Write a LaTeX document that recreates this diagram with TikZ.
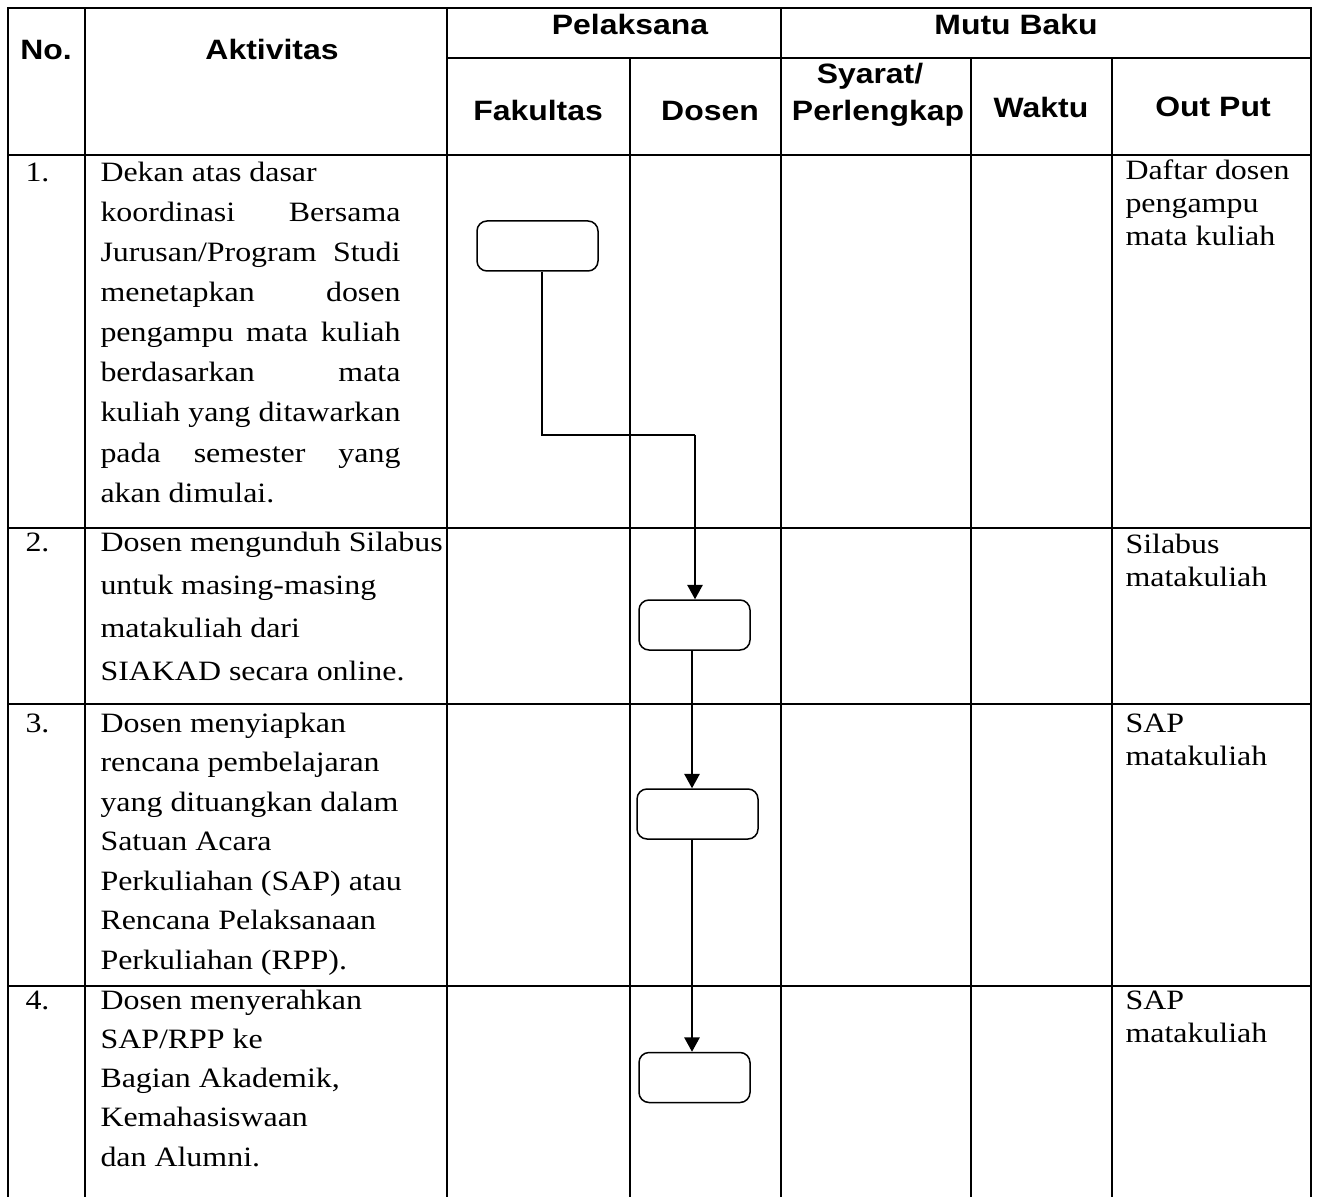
\documentclass[tikz,border=0pt]{standalone}
\usepackage{fontspec}
\setmainfont{Liberation Serif}[FakeStretch=1.14]
\newfontfamily\hdrfont{Liberation Sans}[FakeStretch=1.14]
\usetikzlibrary{arrows.meta}
\newcommand\jline[1]{\makebox[120pt][s]{#1}}
\begin{document}
\begin{tikzpicture}[x=0.4pt,y=-0.4pt,
  grid/.style={line width=0.8pt, line cap=rect},
  hdr/.style={font=\hdrfont\bfseries\fontsize{11.2}{13}\selectfont, inner sep=0pt, anchor=base},
  txt/.style={font=\fontsize{11.2}{16}\selectfont, inner sep=0pt, anchor=base west},
  pbox/.style={draw, line width=0.6pt, rounded corners=4pt, minimum height=20pt, inner sep=0pt},
  conn/.style={line width=0.65pt},
  arr/.style={conn, -{Triangle[length=5.8pt,width=6.2pt]}}]
\useasboundingbox (0,0) rectangle (1317,1197);
\fill[white] (0,0) rectangle (1317,1197);
% grid
\draw[grid] (8,8) -- (1311,8);
\draw[grid] (447,58) -- (1311,58);
\draw[grid] (8,155) -- (1311,155);
\foreach \y in {528,704,986} \draw[grid] (8,\y) -- (1311,\y);
\foreach \x in {8,85,447,781,1311} \draw[grid] (\x,8) -- (\x,1197);
\foreach \x in {630,971,1112} \draw[grid] (\x,58) -- (\x,1197);
% header
\node[hdr] (hNo) at (46,60) {No.};
\node[hdr] (hAkt) at (272,60) {Aktivitas};
\node[hdr] (hPel) at (630,35) {Pelaksana};
\node[hdr] (hMutu) at (1016,35) {Mutu Baku};
\node[hdr] (hFak) at (538,121) {Fakultas};
\node[hdr] (hDos) at (710,121) {Dosen};
\node[hdr] (hSy1) at (870,84) {Syarat/};
\node[hdr] (hSy2) at (878,121) {Perlengkap};
\node[hdr] (hWak) at (1041,118) {Waktu};
\node[hdr] (hOut) at (1213,117) {Out Put};
% numbers
\node[txt] (n1) at (25,182) {1.};
\node[txt] (n2) at (25,551) {2.};
\node[txt] (n3) at (25,732) {3.};
\node[txt] (n4) at (25,1009) {4.};
% activities
\node[txt] (a1) at (100,182) {\parbox[t]{120pt}{\raggedright
  Dekan atas dasar\\
  \jline{koordinasi Bersama}\\
  \jline{Jurusan/Program Studi}\\
  \jline{menetapkan dosen}\\
  \jline{pengampu mata kuliah}\\
  \jline{berdasarkan mata}\\
  \jline{kuliah yang ditawarkan}\\
  \jline{pada semester yang}\\
  akan dimulai.}};
\node[txt, font=\fontsize{11.2}{17.2}\selectfont] (a2) at (100,551) {\parbox[t]{150pt}{\raggedright
  Dosen mengunduh Silabus\\
  untuk masing-masing\\
  matakuliah dari\\
  SIAKAD secara online.}};
\node[txt, font=\fontsize{11.2}{15.8}\selectfont] (a3) at (100,732) {\parbox[t]{150pt}{\raggedright
  Dosen menyiapkan\\
  rencana pembelajaran\\
  yang dituangkan dalam\\
  Satuan Acara\\
  Perkuliahan (SAP) atau\\
  Rencana Pelaksanaan\\
  Perkuliahan (RPP).}};
\node[txt, font=\fontsize{11.2}{15.7}\selectfont] (a4) at (100,1009) {\parbox[t]{150pt}{\raggedright
  Dosen menyerahkan\\
  SAP/RPP ke\\
  Bagian Akademik,\\
  Kemahasiswaan\\
  dan Alumni.}};
% outputs
\node[txt, font=\fontsize{11.2}{13.2}\selectfont] (o1) at (1125,180) {\parbox[t]{80pt}{\raggedright
  Daftar dosen\\ pengampu\\ mata kuliah}};
\node[txt, font=\fontsize{11.2}{13.2}\selectfont] (o2) at (1125,553) {\parbox[t]{80pt}{\raggedright
  Silabus\\ matakuliah}};
\node[txt, font=\fontsize{11.2}{13.2}\selectfont] (o3) at (1125,732) {\parbox[t]{80pt}{\raggedright
  SAP\\ matakuliah}};
\node[txt, font=\fontsize{11.2}{13.2}\selectfont] (o4) at (1125,1009) {\parbox[t]{80pt}{\raggedright
  SAP\\ matakuliah}};
% process boxes
\node[pbox, minimum width=48.4pt] (b1) at (537.5,246) {};
\node[pbox, minimum width=44.4pt] (b2) at (694.5,625) {};
\node[pbox, minimum width=48.4pt] (b3) at (697.5,814) {};
\node[pbox, minimum width=44.4pt] (b4) at (694.5,1077.5) {};
% connectors
\coordinate (turn) at (695,435);
\coordinate (spine) at (692,0);
\draw[conn] ([xshift=1.8pt]b1.south) |- (turn);
\draw[arr] (turn) -- (turn |- b2.north);
\draw[arr] (spine |- b2.south) -- (spine |- b3.north);
\draw[arr] (spine |- b3.south) -- (spine |- b4.north);
\end{tikzpicture}
\end{document}
